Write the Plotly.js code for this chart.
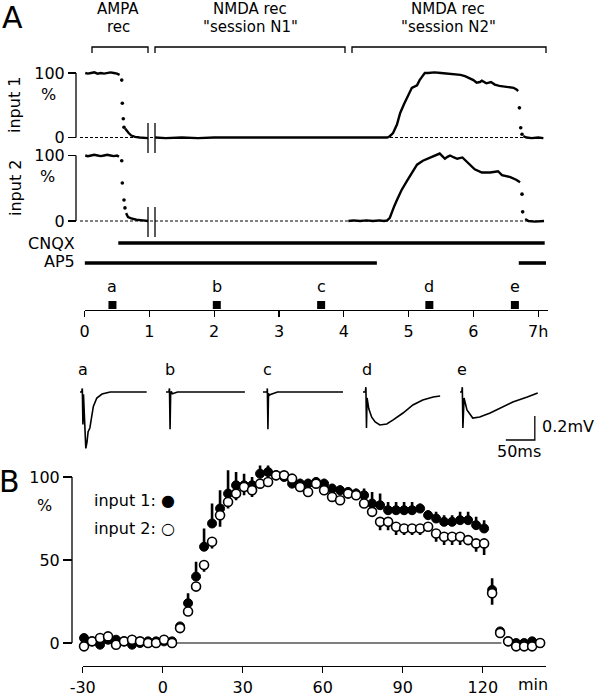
<!DOCTYPE html>
<html><head><meta charset="utf-8">
<script src="https://cdn.plot.ly/plotly-3.0.1.min.js"></script>
<style>html,body{margin:0;padding:0;background:#fff}#chart{width:600px;height:695px}</style>
</head><body><div id="chart"></div>
<script>
// ---------- Panel A : normalised responses vs time (h) ----------
const hourTicks = [0,1,2,3,4,5,6,7];
const hourTickLabels = ['0','1','2','3','4','5','6','7h'];

// input 1 : dense (line) segments separated by null, and isolated transition dots
const in1T = [0.01,0.05,0.1,0.15,0.2,0.25,0.3,0.35,0.4,0.45,0.5,0.54,null,
  0.625,0.65,0.68,0.72,0.78,0.85,0.92,0.98,null,
  1.09,1.25,1.5,1.75,2,2.25,2.5,2.75,3,3.25,3.5,3.75,4,4.25,4.5,4.67,4.71,4.76,4.82,4.87,4.93,4.98,
  5.05,5.13,5.17,5.22,5.25,5.3,5.4,5.5,5.6,5.7,5.8,5.87,5.95,6.0,6.05,6.1,6.13,6.2,6.27,6.33,6.4,6.47,
  6.55,6.62,6.67,6.69,null,6.77,6.82,6.9,7.0,7.08];
const in1V = [100,99,100,101,99,100,99,100,101,100,99,97,null,
  14,10,7,3,1,0,0,-1,null,
  0,-1,0,-1,0,0,-1,0,-1,0,0,-1,0,0,-1,0,2,7,20,38,52,63,
  77,81,89,96,100,100,101,100,99,99,97,95,92,89,85,86,88,84,86,82,80,79,
  78,77,74,72,null,2,0,-1,0,-1];
const in1DotT = [0.573,0.582,0.597,0.608,6.71,6.73,6.75];
const in1DotV = [89,53,29,16,46,15,5];

// input 2
const in2T = [0.01,0.05,0.1,0.15,0.2,0.25,0.3,0.35,0.4,0.45,0.5,0.53,null,
  0.64,0.67,0.72,0.8,0.9,0.98,null,
  4.07,4.15,4.25,4.35,4.45,4.55,4.62,4.67,4.71,4.74,4.78,4.82,4.89,4.98,5.05,5.13,5.22,5.33,5.44,5.48,
  5.52,5.56,5.6,5.64,5.7,5.75,5.83,5.92,6.02,6.13,6.26,6.38,6.44,6.57,6.66,6.72,null,
  6.8,6.85,6.95,7.05,7.09];
const in2V = [100,99,100,101,100,99,100,101,100,99,100,98,null,
  12,6,4,2,1,0,null,
  0,1,0,1,0,1,0,1,5,14,23,32,47,62,74,86,92,97,101,103,
  99,95,98,100,97,95,97,88,79,74,74,76,70,67,63,59,null,
  3,0,-1,-1,0];
const in2DotT = [0.573,0.582,0.608,0.623,6.75,6.76];
const in2DotV = [92,58,32,20,41,14];

// drug application periods (h)
const cnqxPeriods = [[0.52,7.1]];
const ap5Periods = [[0,4.51],[6.7,7.12]];

// sample times of example traces (h)
const sampleLabels = ['a','b','c','d','e'];
const sampleTimes = [0.43,2.04,3.65,5.32,6.64];

// example traces (ms, mV)
const waveT = {
  a:[0,3,4,5,6,8,10,12,14,17,21,23,29,38,52,80,115],
  b:[0,5,6,7,8,9,11,14,20,60,136],
  c:[0,7,7.5,8.5,9.5,10.5,13,18,25,70,138],
  d:[0,4,5,6,7,10,15,21,29,41,52,69,86,103,121,133],
  e:[0,3,4,5,7,9,12,22,34,52,69,91,116,134]
};
const waveV = {
  a:[0,0,0.03,-0.27,-0.02,-0.3,-0.47,-0.42,-0.33,-0.3,-0.18,-0.12,-0.05,-0.017,0,0,0],
  b:[0,0,0.03,-0.31,-0.02,0.005,-0.015,-0.01,0,0,0],
  c:[0,0,0.03,-0.31,-0.01,-0.03,-0.02,-0.01,0,0,0],
  d:[0,0,0.04,-0.3,-0.05,-0.14,-0.21,-0.25,-0.275,-0.267,-0.233,-0.175,-0.108,-0.067,-0.042,-0.033],
  e:[0,0,0.04,-0.3,-0.05,-0.1,-0.15,-0.217,-0.208,-0.175,-0.133,-0.083,-0.042,-0.008]
};
const scaleBarMs = 50, scaleBarMv = 0.2;

// ---------- Panel B : mean time course (min) ----------
const minTicks = [-30,0,30,60,90,120];
const minTickLabels = ['-30','0','30','60','90','120'];
const bTime = [-29.5,-26.5,-23.5,-20.5,-17.5,-14.5,-11.5,-8.5,-5.5,-2.5,0.5,3.5,6.5,9.5,12.5,15.5,18.5,21.5,
  24.5,27.5,30.5,33.5,36.5,39.5,42.5,45.5,48.5,51.5,54.5,57.5,60.5,63.5,66.5,69.5,72.5,75.5,78.5,81.5,84.5,
  87.5,90.5,93.5,96.5,99.5,102.5,105.5,108.5,111.5,114.5,117.5,120.5,123.5,126.5,129.5,132.5,135.5,138.5,141.5];
const bIn1 = [3,1,-1,2,2,1,-1,0,1,1,1,1, 10,24,40,58,72,81,90,95,95,95, 102,103,101,100,96,96,96,97,96,93,
  92,91,90,89,84,83,80,80,80,80, 81,77,75,73,73,74,74,71,69,32, 7,1,0,0,1,0];
const bIn1Sem = [1,1,1,1,1,1,1,1,1,1,1,1, 2,6,9,11,12,11,14,8,7,5, 5,4,3,2,3,3,3,3,3,3,
  3,3,3,4,7,7,5,5,5,5, 3,3,4,4,4,5,5,5,5,7, 2,1,1,1,1,1];
const bIn2 = [-2,1,3,4,-1,1,2,1,0,0,2,0, 9,19,34,47,61,77,85,90,94,92, 96,97,101,101,99,94,91,96,92,88,
  86,90,89,84,79,73,73,70,69,69, 69,70,66,64,64,64,62,60,60,30, 6,1,-2,-2,-2,0];
const bIn2Sem = [1,1,1,1,1,1,1,1,1,1,1,1, 2,2,3,4,4,7,4,4,5,4, 2,2,2,2,2,2,2,2,2,2,
  2,2,2,2,3,5,5,5,4,4, 4,3,5,5,5,5,3,5,7,7, 2,1,1,1,1,1];

// ---------- helpers (pixel -> paper) ----------
const W = 600, H = 695;
const px = v => v / W;
const py = v => 1 - v / H;
const FONT = 'DejaVu Sans, Verdana, sans-serif';
const K = '#000';

const data = [];
const lineTrace = (x, y, xa, ya) => ({x, y, xaxis:xa, yaxis:ya, type:'scatter', mode:'lines',
  line:{color:K, width:2.4}, connectgaps:false, hoverinfo:'skip', cliponaxis:false});
const dotTrace = (x, y, xa, ya) => ({x, y, xaxis:xa, yaxis:ya, type:'scatter', mode:'markers',
  marker:{color:K, size:3.6}, hoverinfo:'skip', cliponaxis:false});
data.push(lineTrace(in1T, in1V, 'x', 'y'));
data.push(dotTrace(in1DotT, in1DotV, 'x', 'y'));
data.push(lineTrace(in2T, in2V, 'x', 'y2'));
data.push(dotTrace(in2DotT, in2DotV, 'x', 'y2'));
data.push({x:sampleTimes, y:sampleTimes.map(() => 0.5), xaxis:'x', yaxis:'y3', type:'scatter', mode:'markers',
  marker:{symbol:'square', color:K, size:8}, hoverinfo:'skip', cliponaxis:false});

// example traces, each on its own small axis pair
const traceStartPx = [80,166,263,363,460];
const pxPerMs = 0.58;
const layoutExtra = {};
sampleLabels.forEach((lab, i) => {
  const n = i + 4;
  data.push({x:waveT[lab], y:waveV[lab], xaxis:'x'+n, yaxis:'y'+n, type:'scatter', mode:'lines',
    line:{color:K, width:1.6}, hoverinfo:'skip'});
  const s = traceStartPx[i];
  layoutExtra['xaxis'+n] = {domain:[px(s - 4*pxPerMs), px(s + 138*pxPerMs)], range:[-4,138],
    anchor:'y'+n, visible:false, fixedrange:true};
  layoutExtra['yaxis'+n] = {domain:[py(452), py(376)], range:[-0.5, 0.1333],
    anchor:'x'+n, visible:false, fixedrange:true};
});

// panel B
data.push({x:bTime, y:bIn1, xaxis:'x9', yaxis:'y9', type:'scatter', mode:'markers', cliponaxis:false,
  marker:{color:K, size:9, line:{color:K, width:1}}, hoverinfo:'skip',
  error_y:{type:'data', symmetric:false, array:bIn1Sem, arrayminus:bIn1Sem.map(() => 0),
    color:K, thickness:2.6, width:0}});
data.push({x:bTime, y:bIn2, xaxis:'x9', yaxis:'y9', type:'scatter', mode:'markers', cliponaxis:false,
  marker:{color:'#fff', size:9, line:{color:K, width:1.6}}, hoverinfo:'skip',
  error_y:{type:'data', symmetric:false, array:bIn2Sem.map(() => 0), arrayminus:bIn2Sem,
    color:K, thickness:2.6, width:0}});

const baseY = {showgrid:false, zeroline:false, showline:false, ticks:'outside', tickwidth:1.3, tickcolor:K,
  tickfont:{size:16, color:K}, fixedrange:true};

const layout = Object.assign({
  width:W, height:H, margin:{l:0, r:0, t:0, b:0}, paper_bgcolor:'#fff', plot_bgcolor:'rgba(0,0,0,0)',
  showlegend:false, font:{family:FONT, size:16, color:K},
  xaxis:{domain:[px(84.6), px(548)], range:[0,7.151], anchor:'free', position:py(310),
    showline:true, linewidth:1.3, linecolor:K, ticks:'outside', ticklen:6, tickwidth:1.3, tickcolor:K,
    tickvals:hourTicks, ticktext:hourTickLabels, showgrid:false, zeroline:false,
    tickfont:{size:16, color:K}, fixedrange:true},
  yaxis:Object.assign({}, baseY, {domain:[py(143.95), py(66.55)], range:[-10,110], anchor:'free',
    position:px(76), ticklen:8, tickvals:[0,100], ticktext:['0','100']}),
  yaxis2:Object.assign({}, baseY, {domain:[py(227.55), py(148.95)], range:[-10,110], anchor:'free',
    position:px(76), ticklen:8, tickvals:[0,100], ticktext:['0','100']}),
  yaxis3:{domain:[py(315), py(295)], range:[0,1], anchor:'x', visible:false, fixedrange:true},
  xaxis9:{domain:[px(82.7), px(546)], range:[-30,143.7], anchor:'free', position:py(666),
    showline:true, linewidth:1.3, linecolor:K, ticks:'outside', ticklen:6, tickwidth:1.3, tickcolor:K,
    tickvals:minTicks, ticktext:minTickLabels, showgrid:false, zeroline:false,
    tickfont:{size:16, color:K}, fixedrange:true},
  yaxis9:Object.assign({}, baseY, {domain:[py(656.3), py(452.1)], range:[-8,115], anchor:'free',
    position:px(72), ticklen:9, tickvals:[0,50,100], ticktext:['0','50','100']})
}, layoutExtra);

// ---------- shapes ----------
const shapes = [];
const ln = (o) => Object.assign({type:'line', line:{color:K, width:1.3}, layer:'above'}, o);
// y-axis lines (0-100 %)
shapes.push(ln({xref:'paper', yref:'y', x0:px(76), x1:px(76), y0:0, y1:100}));
shapes.push(ln({xref:'paper', yref:'y2', x0:px(76), x1:px(76), y0:0, y1:100}));
shapes.push(ln({xref:'paper', yref:'y9', x0:px(72), x1:px(72), y0:0, y1:100}));
// dashed zero lines
shapes.push(ln({xref:'paper', yref:'y', x0:px(80), x1:px(545), y0:0, y1:0, layer:'below', line:{color:K, width:1, dash:'3px,2px'}}));
shapes.push(ln({xref:'paper', yref:'y2', x0:px(80), x1:px(545), y0:0, y1:0, layer:'below', line:{color:K, width:1, dash:'3px,2px'}}));
// break marks
[148,155].forEach(xx => {
  shapes.push(ln({xref:'paper', yref:'paper', x0:px(xx), x1:px(xx), y0:py(123), y1:py(153)}));
  shapes.push(ln({xref:'paper', yref:'paper', x0:px(xx), x1:px(xx), y0:py(207), y1:py(237)}));
});
// session brackets
[[92,148],[155,345],[352,546]].forEach(([a,b]) => {
  shapes.push({type:'path', xref:'paper', yref:'paper', layer:'above', line:{color:K, width:1.3},
    path:`M ${px(a)},${py(53)} L ${px(a)},${py(47)} L ${px(b)},${py(47)} L ${px(b)},${py(53)}`});
});
// drug bars
cnqxPeriods.forEach(([a,b]) => shapes.push(ln({xref:'x', yref:'paper', x0:a, x1:b, y0:py(243), y1:py(243), line:{color:K, width:3.6}})));
ap5Periods.forEach(([a,b]) => shapes.push(ln({xref:'x', yref:'paper', x0:a, x1:b, y0:py(263), y1:py(263), line:{color:K, width:3.6}})));
// panel B zero line
shapes.push(ln({xref:'x9', yref:'y9', x0:-30, x1:127, y0:0, y1:0, layer:'below', line:{color:K, width:1.2}}));
// scale bar on trace e axes
shapes.push({type:'path', xref:'x8', yref:'y8', layer:'above', line:{color:K, width:1.3},
  path:`M 129,${-scaleBarMv} L 129,${-2*scaleBarMv} L ${129-scaleBarMs},${-2*scaleBarMv}`});
layout.shapes = shapes;

// ---------- annotations ----------
const ann = (text, x, y, o) => Object.assign({text, x, y, xref:'paper', yref:'paper', showarrow:false,
  xanchor:'center', yanchor:'middle', font:{family:FONT, size:16, color:K}}, o || {});
const annotations = [];
annotations.push(ann('A', px(12), py(17), {font:{family:FONT, size:30, color:K}}));
annotations.push(ann('B', px(9), py(481), {font:{family:FONT, size:30, color:K}}));
const sessionText = [['AMPA','rec'],['NMDA rec','"session N1"'],['NMDA rec','"session N2"']];
const sessionCenterPx = [118,250,448];
sessionText.forEach((t,i) => {
  annotations.push(ann(t[0], px(sessionCenterPx[i]), py(9.5), {font:{family:FONT, size:15, color:K}}));
  annotations.push(ann(t[1], px(sessionCenterPx[i]), py(27.5), {font:{family:FONT, size:15, color:K}}));
});
annotations.push(ann('input 1', px(15), py(105), {textangle:-90}));
annotations.push(ann('input 2', px(15), py(188), {textangle:-90}));
annotations.push(ann('%', px(48), py(94)));
annotations.push(ann('%', px(47), py(176)));
annotations.push(ann('CNQX', px(77), py(243), {xanchor:'right'}));
annotations.push(ann('AP5', px(77), py(262), {xanchor:'right'}));
sampleLabels.forEach((lab,i) => annotations.push(ann(lab, sampleTimes[i], py(286), {xref:'x'})));
const traceLabelPx = [83,170,267,367,462];
sampleLabels.forEach((lab,i) => annotations.push(ann(lab, px(traceLabelPx[i]), py(369))));
annotations.push(ann('0.2mV', px(540), py(426), {xanchor:'left'}));
annotations.push(ann('50ms', px(519), py(451)));
annotations.push(ann('%', px(44), py(505)));
annotations.push(ann('input 1: \u25CF', px(92), py(500), {xanchor:'left'}));
annotations.push(ann('input 2: \u25CB', px(92), py(528), {xanchor:'left'}));
annotations.push(ann('min', px(533), py(684)));
layout.annotations = annotations;

Plotly.newPlot('chart', data, layout, {staticPlot:true, displayModeBar:false});
</script></body></html>
